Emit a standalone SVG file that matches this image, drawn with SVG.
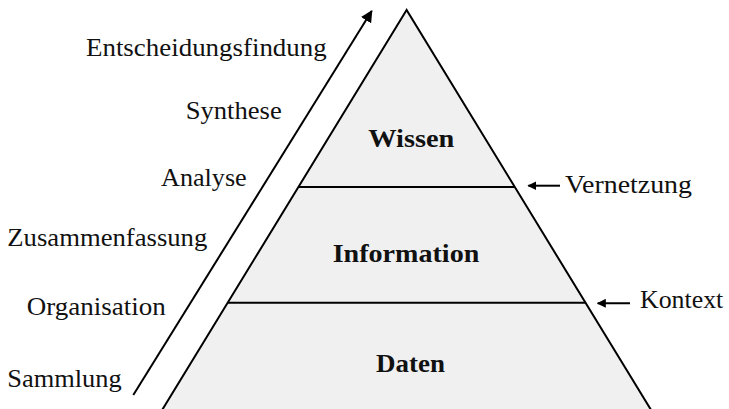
<svg xmlns="http://www.w3.org/2000/svg" width="729" height="409" viewBox="0 0 729 409">
  <style>
    .lbl { font-family: "Liberation Serif", "DejaVu Serif", serif; font-size: 25px; fill: #111; }
    .lvl { font-family: "Liberation Serif", "DejaVu Serif", serif; font-size: 26px; font-weight: bold; fill: #111; }
    .edge { stroke: #000; stroke-width: 2; fill: none; }
  </style>
  <defs>
    <marker id="headBig" viewBox="0 0 10 10" refX="9" refY="5" markerWidth="6" markerHeight="6" markerUnits="strokeWidth" orient="auto">
      <path d="M0,0 L10,5 L0,10 z" fill="#000"/>
    </marker>
    <marker id="headSmall" viewBox="0 0 10 10" refX="9" refY="5" markerWidth="4.5" markerHeight="4.5" markerUnits="strokeWidth" orient="auto">
      <path d="M0,0 L10,5 L0,10 z" fill="#000"/>
    </marker>
  </defs>

  <rect width="729" height="409" fill="#fff"/>

  <!-- pyramid body -->
  <g id="pyramid">
    <polygon points="406.6,10 160.9,412 652.3,412" fill="#f0f0f0" stroke="#000" stroke-width="2" stroke-linejoin="miter"/>
  </g>

  <!-- levels -->
  <g id="level-wissen">
    <text class="lvl" x="411.3" y="146.7" text-anchor="middle" textLength="86" lengthAdjust="spacingAndGlyphs">Wissen</text>
  </g>
  <g id="level-information">
    <text class="lvl" x="406" y="261.7" text-anchor="middle" textLength="146.6" lengthAdjust="spacingAndGlyphs">Information</text>
  </g>
  <g id="level-daten">
    <text class="lvl" x="410.5" y="371.7" text-anchor="middle" textLength="69" lengthAdjust="spacingAndGlyphs">Daten</text>
  </g>

  <!-- process steps along the rising arrow -->
  <g id="steps">
    <text class="lbl" x="86" y="56" textLength="240.7" lengthAdjust="spacingAndGlyphs">Entscheidungsfindung</text>
    <text class="lbl" x="185.7" y="119" textLength="96" lengthAdjust="spacingAndGlyphs">Synthese</text>
    <text class="lbl" x="161" y="185.7" textLength="85.7" lengthAdjust="spacingAndGlyphs">Analyse</text>
    <text class="lbl" x="7.3" y="246" textLength="200" lengthAdjust="spacingAndGlyphs">Zusammenfassung</text>
    <text class="lbl" x="26.7" y="315" textLength="139" lengthAdjust="spacingAndGlyphs">Organisation</text>
    <text class="lbl" x="7.3" y="386.7" textLength="114.4" lengthAdjust="spacingAndGlyphs">Sammlung</text>
  </g>

  <!-- boundary labels -->
  <g id="label-vernetzung">
    <text class="lbl" x="565" y="193.3" textLength="127" lengthAdjust="spacingAndGlyphs">Vernetzung</text>
  </g>
  <g id="label-kontext">
    <text class="lbl" x="640" y="308.3" textLength="83.3" lengthAdjust="spacingAndGlyphs">Kontext</text>
  </g>

  <!-- connectors -->
  <g id="connectors">
    <line class="edge" x1="298.6" y1="187" x2="514.6" y2="187"/>
    <line class="edge" x1="227.8" y1="302.7" x2="585.4" y2="302.7"/>
    <line class="edge" x1="133.3" y1="395" x2="371.7" y2="11" marker-end="url(#headBig)"/>
    <line class="edge" x1="560" y1="185.7" x2="528.3" y2="185.7" marker-end="url(#headSmall)"/>
    <line class="edge" x1="630" y1="303.3" x2="597.7" y2="303.3" marker-end="url(#headSmall)"/>
  </g>
</svg>
